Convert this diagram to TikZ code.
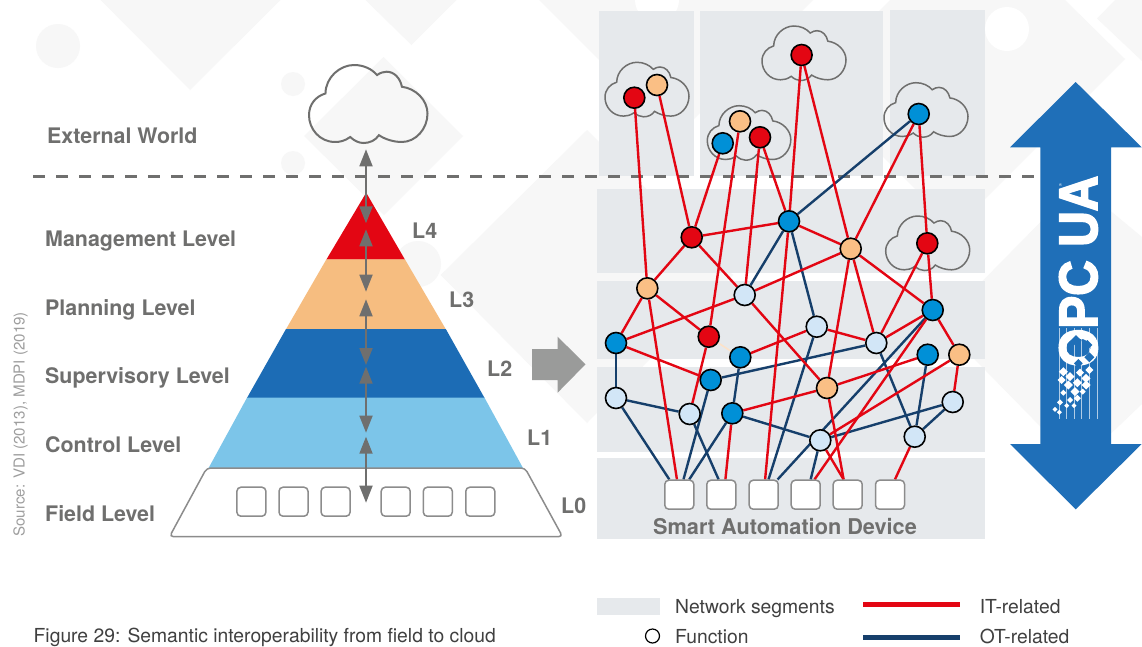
\documentclass[tikz,border=0pt]{standalone}
\usepackage{fontspec}
\usepackage{graphicx}
\setmainfont{TeX Gyre Heros}
\newfontfamily\logofont[FakeBold=3.2]{Liberation Sans Bold}
\usetikzlibrary{arrows.meta}
\definecolor{wm}{HTML}{F7F7F7}
\definecolor{seg}{HTML}{E6E9EC}
\definecolor{itred}{HTML}{E30613}
\definecolor{otnavy}{HTML}{163F6B}
\definecolor{ntancol}{HTML}{FABF85}
\definecolor{nbluecol}{HTML}{0090D7}
\definecolor{nlightcol}{HTML}{D2E6F7}
\definecolor{ptan}{HTML}{F6BD80}
\definecolor{pblue}{HTML}{1C6CB5}
\definecolor{plight}{HTML}{7CC5E9}
\definecolor{dgray}{HTML}{6F6F6E}
\definecolor{bdgray}{HTML}{8C8C8C}
\definecolor{bigblue}{HTML}{1F6FB8}
\definecolor{blockgray}{HTML}{9A9B9A}
\pgfdeclarelayer{bg}
\pgfdeclarelayer{edges}
\pgfsetlayers{bg,edges,main}
\tikzset{
  fn/.style={circle,draw=black,line width=1.6pt,minimum size=21pt,inner sep=0pt},
  nred/.style={fn,fill=itred},
  ntan/.style={fn,fill=ntancol},
  nblue/.style={fn,fill=nbluecol},
  nlight/.style={fn,fill=nlightcol},
  dev/.style={rectangle,rounded corners=4pt,draw=bdgray,line width=1.5pt,fill=white,minimum size=29pt,inner sep=0pt},
  ldev/.style={dev,fill=none},
  itl/.style={draw=itred,line width=2.4pt},
  otl/.style={draw=otnavy,line width=2.4pt},
  boldlab/.style={font=\fontsize{21.4}{24}\selectfont\bfseries,text=dgray,anchor=base west,inner sep=0pt},
  leglab/.style={font=\fontsize{19.3}{23}\selectfont,text=black!75,anchor=base west,inner sep=0pt},
  updown/.style={draw=dgray,line width=1.8pt,{Triangle[width=13pt,length=17pt]}-{Triangle[width=13pt,length=17pt]}},
  cloudln/.style={draw=dgray,line width=1.3pt},
}
\newcommand{\cloudat}[5]{\draw[cloudln,line width=#5,shift={(#1,#2)},xscale=#3,yscale=#4]
 (0.348,0.923) .. controls (0.30,0.975) and (0.26,0.987) .. (0.22,0.987)
 .. controls (0.09,0.987) and (0,0.82) .. (0,0.644)
 .. controls (0,0.50) and (0.06,0.40) .. (0.139,0.365)
 .. controls (0.14,0.16) and (0.26,0) .. (0.38,0)
 .. controls (0.46,0) and (0.53,0.05) .. (0.574,0.129)
 .. controls (0.60,0.10) and (0.63,0.086) .. (0.655,0.086)
 .. controls (0.72,0.086) and (0.77,0.17) .. (0.784,0.279)
 .. controls (0.90,0.30) and (1,0.45) .. (1,0.622)
 .. controls (1,0.82) and (0.90,0.987) .. (0.784,0.987)
 .. controls (0.71,0.987) and (0.64,0.95) .. (0.59,0.90)
 .. controls (0.56,0.97) and (0.51,1) .. (0.46,1)
 .. controls (0.42,1) and (0.38,0.97) .. (0.348,0.923) -- cycle;}
\begin{document}
\begin{tikzpicture}[x=1pt,y=-1pt]
\useasboundingbox (0,0) rectangle (1142,646);
\begin{pgfonlayer}{bg}
\fill[white] (0,0) rectangle (1142,646);
% watermark
\fill[wm] (100.6,0) -- (280.5,0) -- (190,90) -- cycle;
\fill[wm] (365.5,0) -- (456.5,0) -- (411.4,45) -- cycle;
\fill[wm] (383.5,57) -- (463,136) -- (384,215) -- (304,136) -- cycle;
\fill[wm] (440.7,275) -- (587,130) -- (733,275) -- (587,423) -- cycle;
\fill[wm] (539,0) -- (676,137) -- (813,0) -- cycle;
\fill[wm] (890,0) -- (1065,0) -- (1125,59) -- (955,229) -- (808,82) -- cycle;
\fill[wm] (1115,0) -- (1097,18.5) -- (1142,61) -- (1142,0) -- cycle;
\fill[wm] (940,324) -- (1078,184) -- (1142,237) -- (1142,404) -- (1078,465) -- cycle;
\fill[wm] (58,46) circle (22);
\fill[wm] (293,84) circle (12);
\fill[wm] (293,163) circle (12);
\fill[wm] (418,264) circle (23);
\fill[white] (1007,29) circle (22);
\fill[white] (657,0) circle (22);
% network segments
\fill[seg] (599,11) rectangle (694,176);
\fill[seg] (700,11) rectangle (883,176);
\fill[seg] (890,10) rectangle (985,176);
\fill[seg] (597,189) rectangle (985,272.7);
\fill[seg] (597,281) rectangle (985,359.3);
\fill[seg] (597,367) rectangle (985,451.7);
\fill[seg] (597,457.7) rectangle (985,539.3);
% clouds
\cloudat{309}{65}{118.5}{78}{2pt}
\cloudat{605}{62.3}{84}{54.5}{1.5pt}
\cloudat{707.3}{105.7}{83.5}{54.5}{1.5pt}
\cloudat{762}{26}{84}{54.5}{1.5pt}
\cloudat{884}{82.7}{84}{54.5}{1.5pt}
\cloudat{885.7}{216}{84}{54.5}{1.5pt}
% dashed separator
\coordinate (dashl) at (33,176.5);
\coordinate (dashr) at (1040,176.5);
\draw[dgray,line width=3pt,dash pattern=on 11.7pt off 11.3pt] (dashl) -- (dashr);
\end{pgfonlayer}
% pyramid
\fill[itred] (366.2,192.7) -- (404.9,259.5) -- (326.4,259.5) -- cycle;
\fill[ptan] (326.4,259.3) -- (404.9,259.3) -- (445.8,329.2) -- (286,329.2) -- cycle;
\fill[pblue] (286,329) -- (445.8,329) -- (484.5,397.9) -- (247,397.9) -- cycle;
\fill[plight] (247,397.7) -- (484.5,397.7) -- (523,468) -- (208.6,468) -- cycle;
\draw[bdgray,line width=1.5pt,fill=white,rounded corners=4pt] (206.7,468) -- (525,468) -- (562.6,536.7) -- (169.5,536.7) -- cycle;
% field devices
\node[ldev] (b1) at (251.4,501.7) {};
\node[ldev] (b2) at (293.5,501.7) {};
\node[ldev] (b3) at (335.6,501.7) {};
\node[ldev] (b4) at (395.7,501.7) {};
\node[ldev] (b5) at (437.8,501.7) {};
\node[ldev] (b6) at (480.3,501.7) {};
% level arrows
\coordinate (a0) at (366,149.3);
\coordinate (a1) at (366,223.3);
\coordinate (a2) at (366,229.3);
\coordinate (a3) at (366,291.7);
\coordinate (a4) at (366,299.3);
\coordinate (a5) at (366,365);
\coordinate (a6) at (366,366.7);
\coordinate (a7) at (366,432.7);
\coordinate (a8) at (366,436.7);
\coordinate (a9) at (366,502.7);
\draw[updown] (a0) -- (a1);
\draw[updown] (a2) -- (a3);
\draw[updown] (a4) -- (a5);
\draw[updown] (a6) -- (a7);
\draw[updown] (a8) -- (a9);
% labels left
\node[boldlab] (t0) at (47,143.4) {External World};
\node[boldlab] (t1) at (45,246) {Management Level};
\node[boldlab] (t2) at (45,315.3) {Planning Level};
\node[boldlab] (t3) at (45,383.6) {Supervisory Level};
\node[boldlab] (t4) at (45,452.5) {Control Level};
\node[boldlab] (t5) at (45,521.4) {Field Level};
\node[boldlab] (l4) at (412,238) {L4};
\node[boldlab] (l3) at (449,307) {L3};
\node[boldlab] (l2) at (487,376) {L2};
\node[boldlab] (l1) at (527,445) {L1};
\node[boldlab] (l0) at (561,513.4) {L0};
\node[font=\fontsize{15.1}{16}\selectfont,text=black!38,rotate=90,anchor=base west,inner sep=0pt] (src) at (24.5,536.7) {Source: VDI (2013), MDPI (2019)};
% block arrow
\fill[blockgray] (532,349) -- (557.6,349) -- (557.6,336.7) -- (585.5,364.3) -- (557.6,392.7) -- (557.6,380) -- (532,380) -- cycle;
% network nodes
\node[nred] (c1) at (634.3,97.7) {};
\node[ntan] (c2) at (657,85) {};
\node[nblue] (c3) at (722.7,143.3) {};
\node[ntan] (c4) at (740,121.3) {};
\node[nred] (c5) at (760,137.3) {};
\node[nred] (c6) at (801.6,55) {};
\node[nblue] (c7) at (918.7,114) {};
\node[nred] (d1) at (691.7,237.3) {};
\node[nblue] (d2) at (789,221.3) {};
\node[ntan] (d3) at (850.7,248.7) {};
\node[nred] (d4) at (927.3,243.3) {};
\node[ntan] (e1) at (647.3,288.3) {};
\node[nlight] (e2) at (744.7,295) {};
\node[nblue] (e3) at (932.7,310) {};
\node[nlight] (e4) at (816.7,326.7) {};
\node[nlight] (e5) at (876.3,343) {};
\node[nred] (e6) at (708.7,336.7) {};
\node[nblue] (e7) at (616,343) {};
\node[nblue] (e8) at (740.3,357.3) {};
\node[nblue] (e9) at (927.7,354.7) {};
\node[ntan] (e10) at (959.3,354.7) {};
\node[nblue] (f1) at (710.7,380) {};
\node[ntan] (f2) at (827,388) {};
\node[nlight] (f3) at (616,398) {};
\node[nlight] (f4) at (952.7,402) {};
\node[nlight] (f5) at (689.7,414) {};
\node[nblue] (f6) at (732.3,413.3) {};
\node[nlight] (f7) at (820.3,440.3) {};
\node[nlight] (f8) at (914.7,436.7) {};
\node[dev] (s1) at (679.3,494.7) {};
\node[dev] (s2) at (721.3,494.7) {};
\node[dev] (s3) at (763.7,494.7) {};
\node[dev] (s4) at (805.7,494.7) {};
\node[dev] (s5) at (847.7,494.7) {};
\node[dev] (s6) at (890,494.7) {};
\begin{pgfonlayer}{edges}
\foreach \a/\b in {d2/e2,d2/e4,c7/d2,e3/s3,e4/s3,e5/f1,e5/f8,e7/f3,e8/f6,e9/f8,f1/s1,f3/f5,f3/s1,f4/f7,f4/f8,f5/s2.100,f6/s1,f6/f7,f7/s4.72}
  \draw[otl] (\a) -- (\b);
\foreach \a/\b in {c1/e1,c2/d1,c3/d1,c4/e6,e6/f5,c5/e2,c5/d2,c6/d2,c6/d3,c7/d3,c7/d4,d1/d2,d2/d3,d1/e1,d1/e2,d2/s3,d3/e2,d3/f2,d3/e5,d3/e3,d4/e5,d4/e3,e1/e7,e1/e6,e1/s1,e2/e7,e2/f2,e3/e5,e3/e10,e3/s4.60,e4/e8,e4/e5,e7/f1,e9/f2,e10/f4,e10/f7,f2/f6,f2/s5.105,f6/s2.75,f7/s5.105,f8/s6.72}
  \draw[itl] (\a) -- (\b);
\draw[draw=ntancol!45!white,line width=1.5pt] (e6) -- (e8);
\end{pgfonlayer}
\node[font=\fontsize{21.7}{25}\selectfont\bfseries,text=dgray,anchor=base,inner sep=0pt] (sad) at (785,534) {Smart Automation Device};
% OPC UA arrow
\fill[bigblue] (1075.7,82) -- (1141.7,147.3) -- (1111,147.3) -- (1111,444) -- (1141.7,444) -- (1075.7,509.3) -- (1010,444) -- (1040.3,444) -- (1040.3,147.3) -- (1010,147.3) -- cycle;
\node[font=\logofont\fontsize{54}{56}\selectfont,text=white,rotate=90,anchor=base west,inner sep=0pt] (opc) at (1097,367) {\scalebox{0.91}[1]{OPC UA}};
\node[font=\fontsize{4}{5}\selectfont,text=white,inner sep=0pt] (reg) at (1060.7,185) {®};
% logo stripes and particles
\foreach \sx in {1059.3,1066.7,1074,1081.7,1089.3,1097.7}
  \fill[white,opacity=.65] (\sx-.4,328) rectangle (\sx+.4,419);
\foreach \dx/\dy/\dr in {228/812/9,262/825/8,268/862/8,235/880/7}
  \fill[bigblue] ({1000+\dx/3},{70+\dy/3}) ++(-\dr/1.6,0) -- ++(\dr/1.6,-\dr/1.6) -- ++(\dr/1.6,\dr/1.6) -- ++(-\dr/1.6,\dr/1.6) -- cycle;
\foreach \dx/\dy/\dr in {190/905/9,210/920/9,185/930/8,205/945/9,232/938/9,258/925/9,258/945/9,190/968/6,225/965/9,248/965/6,180/997/6,232/985/7,210/990/6,200/1007/5,222/1007/5,165/1018/5,178/1027/5,240/908/8,268/900/8}
  \fill[white] ({1000+\dx/3},{70+\dy/3}) ++(-\dr/2,0) -- ++(\dr/2,-\dr/2) -- ++(\dr/2,\dr/2) -- ++(-\dr/2,\dr/2) -- cycle;
% caption and legend
\node[leglab] (cap) at (33.5,642.7) {Figure 29: Semantic interoperability from field to cloud};
\fill[seg] (597,598) rectangle (660,615);
\node[leglab] (lg1) at (675,613.3) {Network segments};
\node[circle,draw=black,line width=1.2pt,fill=white,minimum size=14pt,inner sep=0pt] (lgc) at (652.5,636) {};
\node[leglab] (lg2) at (675,643.3) {Function};
\coordinate (ra) at (863,604.7);
\coordinate (rb) at (960,604.7);
\coordinate (na) at (863,637.3);
\coordinate (nb) at (960,637.3);
\draw[itred,line width=4.5pt] (ra) -- (rb);
\draw[otnavy,line width=4.5pt] (na) -- (nb);
\node[leglab] (lg3) at (979.6,613.3) {IT-related};
\node[leglab] (lg4) at (979.6,643.3) {OT-related};
\end{tikzpicture}
\end{document}
